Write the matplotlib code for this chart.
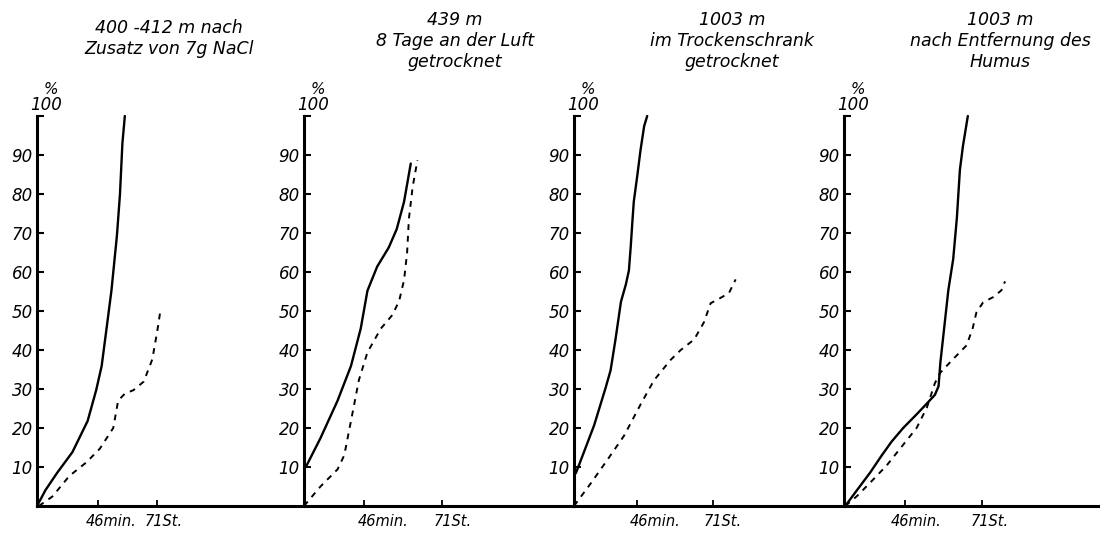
import matplotlib
matplotlib.use("Agg")
import matplotlib.pyplot as plt

# ---------------- data (x in arbitrary time-axis units, y in %) ----------------
titles = [
    "400 -412 m nach\nZusatz von 7g NaCl",
    "439 m\n8 Tage an der Luft\ngetrocknet",
    "1003 m\nim Trockenschrank\ngetrocknet",
    "1003 m\nnach Entfernung des\nHumus",
]

y_ticks = [10, 20, 30, 40, 50, 60, 70, 80, 90]
x_tick_labels = ["46min.", "71St."]
x_ticks = [[10.0, 19.7], [9.8, 22.6], [10.3, 22.8], [10.0, 22.6]]

p1_solid_x = [0.0, 1.4, 3.3, 5.8, 8.3, 9.7, 10.6, 11.4, 12.2, 13.1, 13.6, 14.0, 14.4]
p1_solid_y = [0.0, 4.1, 8.5, 13.8, 21.8, 29.7, 35.9, 45.5, 55.2, 69.3, 79.9, 93.0, 100.0]
p1_dash_x = [0.3, 2.5, 5.3, 8.1, 10.3, 12.5, 13.3, 14.4, 15.8, 17.5, 18.9, 19.7, 20.3]
p1_dash_y = [0.0, 2.4, 7.7, 11.2, 14.7, 20.0, 27.0, 28.8, 29.7, 31.9, 37.6, 44.7, 50.8]

p2_solid_x = [0.3, 2.7, 5.5, 7.7, 9.3, 10.4, 12.0, 13.9, 15.2, 16.4, 17.5]
p2_solid_y = [10.0, 17.4, 27.0, 35.9, 45.5, 55.2, 61.4, 66.3, 71.0, 78.0, 87.8]
p2_dash_x = [0.0, 2.7, 5.5, 6.6, 7.7, 9.0, 10.4, 12.6, 14.5, 15.6, 16.4, 16.9, 17.2, 17.8, 18.6]
p2_dash_y = [0.0, 5.0, 9.4, 13.0, 21.8, 32.3, 39.4, 45.5, 49.0, 52.6, 57.9, 64.9, 73.7, 81.7, 88.7]

p3_solid_x = [0.3, 1.6, 3.3, 5.2, 6.0, 6.8, 7.7, 8.5, 9.0, 9.3, 9.6, 9.8, 10.4, 10.9, 11.5, 12.0]
p3_solid_y = [8.4, 13.7, 20.7, 30.4, 34.8, 42.7, 52.4, 56.8, 60.4, 66.5, 73.6, 78.0, 85.0, 91.2, 97.4, 100.0]
p3_dash_x = [0.0, 2.7, 5.5, 8.2, 10.9, 13.1, 15.8, 17.5, 19.7, 21.3, 22.4, 23.5, 25.4, 26.5]
p3_dash_y = [0.0, 5.7, 11.9, 18.0, 26.0, 32.2, 37.4, 40.0, 42.7, 47.1, 52.0, 52.9, 54.6, 58.1]

p4_solid_x = [0.2, 2.1, 4.3, 6.2, 7.8, 9.7, 11.9, 13.6, 14.9, 15.5, 15.8, 16.3, 17.1, 17.9, 18.5, 19.0, 19.5, 20.3]
p4_solid_y = [0.0, 4.0, 8.6, 13.0, 16.5, 20.0, 23.5, 26.3, 28.5, 30.7, 36.8, 43.9, 55.3, 63.3, 73.8, 86.2, 92.3, 100.0]
p4_dash_x = [0.2, 2.1, 4.3, 7.0, 9.7, 11.9, 13.6, 14.9, 15.8, 17.9, 20.1, 21.1, 21.7, 22.8, 24.5, 25.8, 26.4]
p4_dash_y = [0.0, 2.5, 6.0, 10.4, 15.7, 20.0, 25.3, 31.5, 34.2, 37.7, 41.2, 45.6, 49.6, 52.2, 53.6, 55.3, 57.6]

solid_series = [(p1_solid_x, p1_solid_y), (p2_solid_x, p2_solid_y),
                (p3_solid_x, p3_solid_y), (p4_solid_x, p4_solid_y)]
dash_series = [(p1_dash_x, p1_dash_y), (p2_dash_x, p2_dash_y),
               (p3_dash_x, p3_dash_y), (p4_dash_x, p4_dash_y)]

# ---------------- layout ----------------
W, H = 1103, 533
PX_PER_UNIT = 6.1
axis_px = [37, 304, 574, 844]
right_end = 1098
base_px, top_px = 506, 116
title_cx = [169, 455, 732, 1000]
title_top = [19, 11, 11, 11]
label_offsets = [[2.1, 1.1], [3.2, 1.7], [3.0, 1.6], [1.8, 1.3]]

plt.rcParams["font.family"] = "DejaVu Sans"

fig = plt.figure(figsize=(W / 100, H / 100), dpi=100)

for i in range(4):
    left = axis_px[i]
    right = axis_px[i + 1] if i < 3 else right_end
    ax = fig.add_axes([left / W, (H - base_px) / H, (right - left) / W, (base_px - top_px) / H])
    ax.set_xlim(0, (right - left) / PX_PER_UNIT)
    ax.set_ylim(0, 100)
    for s in ["top", "right"]:
        ax.spines[s].set_visible(False)
    for s in ["left", "bottom"]:
        ax.spines[s].set_linewidth(2.2)
        ax.spines[s].set_color("black")

    sx, sy = solid_series[i]
    dx, dy = dash_series[i]
    ax.plot(sx, sy, color="black", lw=1.7, clip_on=False, solid_capstyle="round")
    ax.plot(dx, dy, color="black", lw=1.4, ls=(0, (3, 3)), clip_on=False)

    ax.set_yticks(y_ticks + [100])
    ax.set_yticklabels([str(v) for v in y_ticks] + [""])
    ax.tick_params(axis="y", direction="in", length=5, width=1.5, pad=3,
                   labelsize=12)
    for lab in ax.get_yticklabels():
        lab.set_fontstyle("italic")

    ax.set_xticks(x_ticks[i])
    ax.set_xticklabels([])
    ax.tick_params(axis="x", direction="in", length=4, width=1.3)
    for j, lab in enumerate(x_tick_labels):
        ax.annotate(lab, xy=(x_ticks[i][j] + label_offsets[i][j], 0),
                    xytext=(0, -15), textcoords="offset pixels",
                    ha="center", va="center", fontsize=10.5, fontstyle="italic",
                    annotation_clip=False)

    ax.annotate("100", xy=(0, 100), xytext=(9, 11), textcoords="offset pixels",
                ha="center", va="center", fontsize=12, fontstyle="italic",
                annotation_clip=False)
    ax.annotate("%", xy=(0, 100), xytext=(14, 26), textcoords="offset pixels",
                ha="center", va="center", fontsize=11, fontstyle="italic",
                annotation_clip=False)

    fig.text(title_cx[i] / W, 1 - title_top[i] / H, titles[i], ha="center", va="top",
             multialignment="center", fontsize=12.5, fontstyle="italic",
             linespacing=1.2)

fig.savefig("out.png", dpi=100)
